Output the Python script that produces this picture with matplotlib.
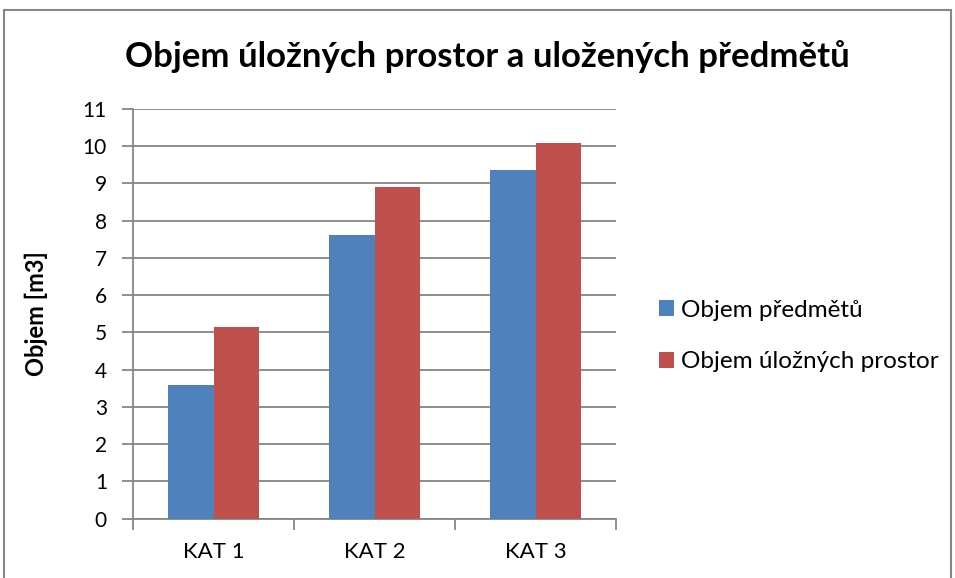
import matplotlib.pyplot as plt
import numpy as np
from matplotlib.patches import Rectangle

# hodnoty
kategorie = ["KAT 1", "KAT 2", "KAT 3"]
objem_predmetu = [3.58, 7.62, 9.37]
objem_prostor = [5.15, 8.90, 10.09]
serie = ["Objem předmětů", "Objem úložných prostor"]

plt.rcParams['font.family'] = ['Lato', 'DejaVu Sans']

fig = plt.figure(figsize=(9.55, 5.78), dpi=100)
ax = fig.add_axes([0.1396, 0.1026, 0.5054, 0.7088])

# rámeček kolem celého grafu
fig.patches.append(Rectangle((4 / 955, -0.1), 947 / 955, 1.1 - 10 / 578,
                             transform=fig.transFigure, fill=False,
                             edgecolor="#868686", linewidth=1.5))

x = np.arange(len(kategorie))
w = 0.284
ax.bar(x - w / 2, objem_predmetu, w, color="#4F81BD", label=serie[0], zorder=3)
ax.bar(x + w / 2, objem_prostor, w, color="#C0504D", label=serie[1], zorder=3)

ax.set_xlim(-0.5, 2.5)
ax.set_ylim(0, 11)
ax.set_yticks(range(0, 12))
ax.yaxis.grid(True, color="#868686", linewidth=1.3, zorder=0)
ax.set_xticks(x)
ax.set_xticklabels(kategorie)
ax.set_xticks([-0.5, 0.5, 1.5, 2.5], minor=True)
ax.tick_params(axis="x", which="major", length=0, labelsize=16, pad=17)
ax.tick_params(axis="x", which="minor", length=8, width=1.3, color="#868686")
ax.tick_params(axis="y", length=8, width=1.3, color="#868686", labelsize=15, pad=11)

for s in ["top", "right"]:
    ax.spines[s].set_visible(False)
for s in ["left", "bottom"]:
    ax.spines[s].set_color("#868686")
    ax.spines[s].set_linewidth(1.3)

ax.set_ylabel("Objem [m3]", fontsize=17, fontweight="bold")
ax.yaxis.set_label_coords(-0.177, 0.5)
fig.text(0.51, 0.903, "Objem úložných prostor a uložených předmětů",
         ha="center", va="center", fontsize=25, fontweight="bold")

ax.legend(loc="center left", bbox_to_anchor=(1.089, 0.446), frameon=False,
          fontsize=17.5, handlelength=0.62, handleheight=0.62, handletextpad=0.3,
          labelspacing=1.26, borderpad=0, borderaxespad=0)

fig.savefig("out.png", dpi=100)
